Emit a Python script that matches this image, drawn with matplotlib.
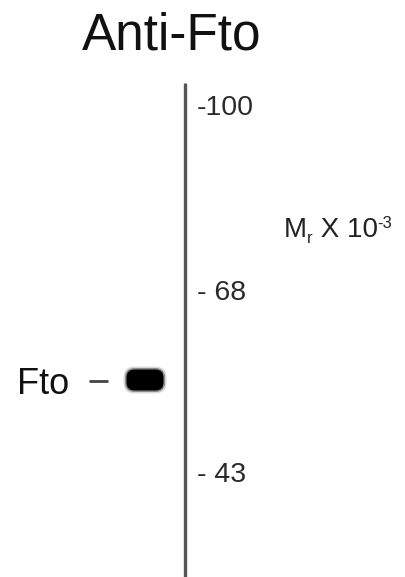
"""
Western blot panel: anti-Fto, one lane with molecular weight markers.
Saves out.png (406x577 px).
"""

import matplotlib.pyplot as plt
from matplotlib.patches import FancyBboxPatch
from matplotlib.transforms import offset_copy

plt.rcParams["font.family"] = ["Liberation Sans", "DejaVu Sans"]

W, H, DPI = 406, 577, 100

# marker ladder (kDa) and where each one ran (migration, px from top)
marker_kda = ["100", "68", "43"]
marker_pos = [115, 300, 482]          # text baseline
marker_prefix = ["-", "- ", "- "]

# detected band
band_name = "Fto"
band_pos = 380
band_lane_x = 145

title = "Anti-Fto"

fig = plt.figure(figsize=(W / DPI, H / DPI), dpi=DPI)
ax = fig.add_axes([0, 0, 1, 1])
ax.set_xlim(0, W)
ax.set_ylim(H, 0)
ax.set_axis_off()

# title
ax.text(172, 49, title, ha="center", va="baseline", fontsize=37, color="#111")

# gel edge / marker line
ax.plot([185, 185], [83, H], color="#555555", lw=2.4, solid_capstyle="butt")

# marker labels
for pre, kda, y in zip(marker_prefix, marker_kda, marker_pos):
    ax.text(197, y, pre + kda, ha="left", va="baseline", fontsize=20.5, color="#2a2a2a")

# "Mr X 10-3" built piece by piece so the exponent keeps a plain hyphen
pieces = [("M", 20, 0), ("r", 12, -6), (" X 10", 20, 0), ("-3", 12, 9)]
fig.canvas.draw()
r = fig.canvas.get_renderer()
x_px = 0.0
for txt, fs, dy in pieces:
    tr = offset_copy(ax.transData, fig=fig, x=x_px, y=dy, units="dots")
    t = ax.text(284, 237, txt, ha="left", va="baseline", fontsize=fs,
                color="#222", transform=tr)
    x_px += t.get_window_extent(renderer=r).width

# band: soft halo + solid core
for pad, alpha in [(3.0, 0.15), (1.5, 0.35), (0.0, 1.0)]:
    bw, bh = 37 + 2 * pad, 21 + 2 * pad
    box = FancyBboxPatch((band_lane_x - bw / 2, band_pos - bh / 2), bw, bh,
                         boxstyle="round,pad=0,rounding_size=%.1f" % (8 + pad),
                         linewidth=0, facecolor="black", alpha=alpha)
    ax.add_patch(box)

# band label with pointer dash
ax.text(17, band_pos + 14, band_name, ha="left", va="baseline", fontsize=26, color="#111")
ax.plot([89, 108], [band_pos + 1, band_pos + 1], color="#444", lw=2.0, solid_capstyle="butt")

fig.savefig("out.png", dpi=DPI, facecolor="white")
